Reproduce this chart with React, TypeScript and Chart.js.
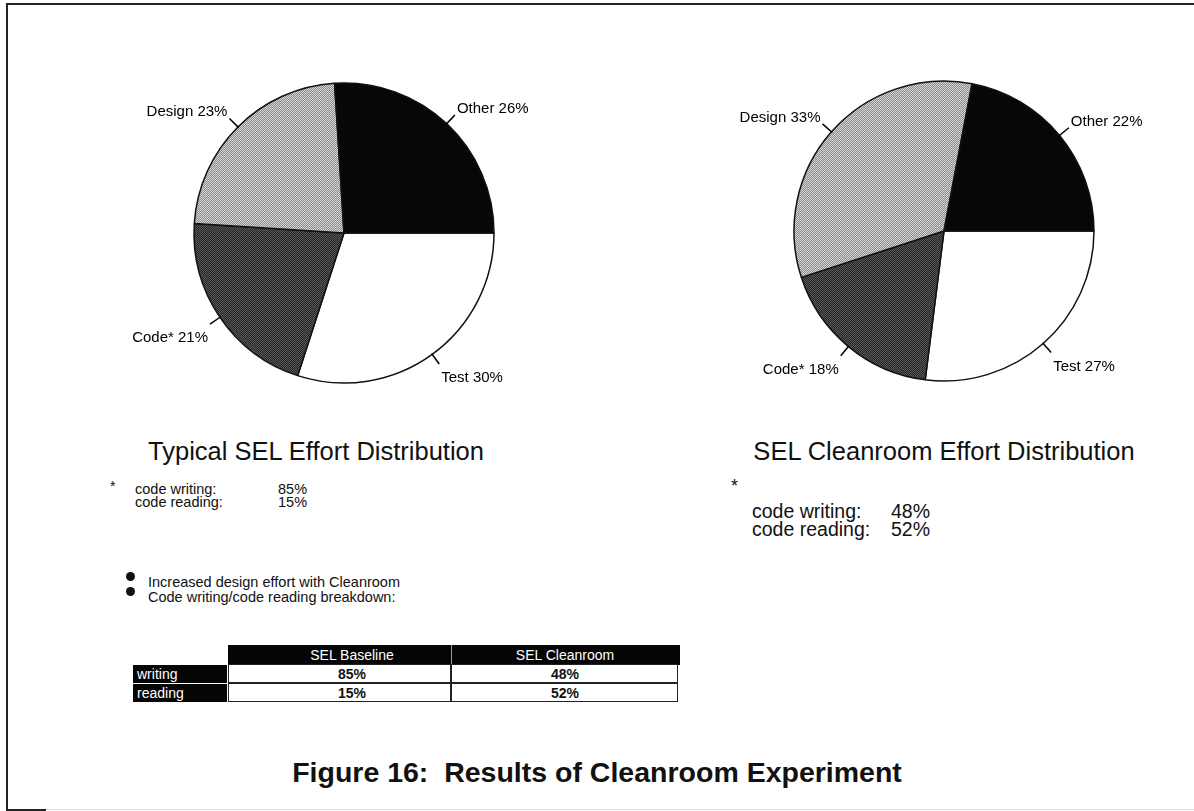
import React, { useEffect, useRef } from "react";
import { Chart, registerables } from "chart.js";

Chart.register(...registerables);

// ---- data ----
const categories = ["Test", "Code*", "Design", "Other"];
const typicalValues = [30, 21, 23, 26];
const cleanroomValues = [27, 18, 33, 22];
const pieTitles = ["Typical SEL Effort Distribution", "SEL Cleanroom Effort Distribution"];
const noteLabels = ["code writing:", "code reading:"];
const typicalNotes = [85, 15];
const cleanroomNotes = [48, 52];
const bulletItems = ["Increased design effort with Cleanroom", "Code writing/code reading breakdown:"];
const tableColumns = ["SEL Baseline", "SEL Cleanroom"];
const tableRows = ["writing", "reading"];
const baselineBreakdown = [85, 15];
const cleanroomBreakdown = [48, 52];
const captionText = "Figure 16:  Results of Cleanroom Experiment";

const FONT = "'Liberation Sans', Arial, Helvetica, sans-serif";

function makePattern(base: string, dot: string): CanvasPattern | string {
  const c = document.createElement("canvas");
  c.width = 2;
  c.height = 2;
  const g = c.getContext("2d");
  if (!g) return base;
  g.fillStyle = base;
  g.fillRect(0, 0, 2, 2);
  g.fillStyle = dot;
  g.fillRect(0, 0, 1, 1);
  g.fillRect(1, 1, 1, 1);
  return g.createPattern(c, "repeat") || base;
}

const pieLabelPlugin = {
  id: "pieLabels",
  afterDatasetsDraw(chart: any) {
    const ctx = chart.ctx;
    const meta = chart.getDatasetMeta(0);
    const labels = chart.data.labels;
    const values = chart.data.datasets[0].data;
    ctx.save();
    ctx.font = `15px ${FONT}`;
    ctx.fillStyle = "#000";
    ctx.strokeStyle = "#000";
    ctx.lineWidth = 1.5;
    meta.data.forEach((arc: any, i: number) => {
      const p = arc.getProps(["x", "y", "startAngle", "endAngle", "outerRadius"], true);
      const mid = (p.startAngle + p.endAngle) / 2;
      const cos = Math.cos(mid);
      const sin = Math.sin(mid);
      const r0 = p.outerRadius - 1;
      const r1 = p.outerRadius + 12;
      const x0 = p.x + cos * r0;
      const y0 = p.y + sin * r0;
      const x1 = p.x + cos * r1;
      const y1 = p.y + sin * r1;
      ctx.beginPath();
      ctx.moveTo(x0, y0);
      ctx.lineTo(x1, y1);
      ctx.stroke();
      const right = cos >= 0;
      ctx.textAlign = right ? "left" : "right";
      ctx.textBaseline = "alphabetic";
      const tx = x1 + (right ? 2 : -2);
      const ty = sin < 0 ? y1 - 2 : y1 + 18;
      ctx.fillText(`${labels[i]} ${values[i]}%`, tx, ty);
    });
    ctx.restore();
  },
};

function PieChart({ values, left, top }: { values: number[]; left: number; top: number }) {
  const ref = useRef<HTMLCanvasElement>(null);
  useEffect(() => {
    if (!ref.current) return;
    const design = makePattern("#d6d6d6", "#8a8a8a");
    const code = makePattern("#585858", "#262626");
    const chart = new Chart(ref.current, {
      type: "pie",
      data: {
        labels: categories,
        datasets: [
          {
            data: values,
            backgroundColor: ["#ffffff", code as any, design as any, "#070707"],
            borderColor: "#111",
            borderWidth: 1.5,
          },
        ],
      },
      options: {
        responsive: false,
        animation: false,
        rotation: 90,
        radius: 150,
        layout: { padding: 0 },
        plugins: { legend: { display: false }, tooltip: { enabled: false } },
        events: [],
      } as any,
      plugins: [pieLabelPlugin],
    });
    return () => chart.destroy();
  }, [values]);
  return (
    <canvas
      ref={ref}
      width={500}
      height={400}
      style={{ position: "absolute", left, top, width: 500, height: 400 }}
    />
  );
}

const abs = (left: number, top: number, extra: React.CSSProperties = {}): React.CSSProperties => ({
  position: "absolute",
  left,
  top,
  whiteSpace: "pre",
  fontFamily: FONT,
  color: "#111",
  ...extra,
});

export default function App() {
  useEffect(() => {
    document.body.style.margin = "0";
    document.body.style.overflow = "hidden";
  }, []);

  const colX = [228, 451];
  const colW = [223, 227];
  const rowY = [665, 684];
  const rowH = 19;

  return (
    <div
      style={{
        position: "absolute",
        left: 0,
        top: 0,
        width: 1194,
        height: 811,
        overflow: "hidden",
        background: "#fff",
        fontFamily: FONT,
      }}
    >
      {/* frame */}
      <div style={{ position: "absolute", left: 6, top: 3, width: 1200, height: 806, borderLeft: "2px solid #222", borderTop: "2px solid #222" }} />
      <div style={{ position: "absolute", left: 6, top: 809, width: 40, height: 2, background: "#222" }} />
      <div style={{ position: "absolute", left: 46, top: 809, width: 1148, height: 1, background: "#ddd" }} />

      <PieChart values={typicalValues} left={94} top={33} />
      <PieChart values={cleanroomValues} left={694} top={31} />

      {/* titles */}
      <div style={abs(316, 437, { transform: "translateX(-50%)", fontSize: 25.5 })}>{pieTitles[0]}</div>
      <div style={abs(944, 437, { transform: "translateX(-50%)", fontSize: 25.5 })}>{pieTitles[1]}</div>

      {/* left notes */}
      <div style={abs(110, 478, { fontSize: 14 })}>*</div>
      {noteLabels.map((t, i) => (
        <React.Fragment key={"ln" + i}>
          <div style={abs(135, 481 + i * 13, { fontSize: 14.5, lineHeight: "16px" })}>{t}</div>
          <div style={abs(278, 481 + i * 13, { fontSize: 14.5, lineHeight: "16px" })}>{typicalNotes[i]}%</div>
        </React.Fragment>
      ))}

      {/* right notes */}
      <div style={abs(731, 476, { fontSize: 18 })}>*</div>
      {noteLabels.map((t, i) => (
        <React.Fragment key={"rn" + i}>
          <div style={abs(752, 500 + i * 18, { fontSize: 19.5, lineHeight: "22px" })}>{t}</div>
          <div style={abs(891, 500 + i * 18, { fontSize: 19.5, lineHeight: "22px" })}>{cleanroomNotes[i]}%</div>
        </React.Fragment>
      ))}

      {/* bullets */}
      {bulletItems.map((t, i) => (
        <React.Fragment key={"b" + i}>
          <div style={{ position: "absolute", left: 126, top: 572 + i * 15, width: 9, height: 9, borderRadius: "50%", background: "#111" }} />
          <div style={abs(148, 574 + i * 15, { fontSize: 14.5, lineHeight: "16px" })}>{t}</div>
        </React.Fragment>
      ))}

      {/* table header */}
      <div style={{ position: "absolute", left: 228, top: 645, width: 452, height: 20, background: "#050505" }} />
      <div style={{ position: "absolute", left: 451, top: 645, width: 1, height: 20, background: "#999" }} />
      {tableColumns.map((c, j) => (
        <div key={"h" + j} style={abs(j === 0 ? 352 : 565, 645, { transform: "translateX(-50%)", fontSize: 14, lineHeight: "20px", color: "#fff" })}>
          {c}
        </div>
      ))}
      {/* table rows */}
      {tableRows.map((r, i) => (
        <React.Fragment key={"r" + i}>
          <div style={{ position: "absolute", left: 133, top: rowY[i], width: 94, height: rowH - 1, background: "#050505" }} />
          <div style={abs(137, rowY[i], { fontSize: 14, lineHeight: "18px", color: "#fff" })}>{r}</div>
          {[baselineBreakdown[i], cleanroomBreakdown[i]].map((v, j) => (
            <React.Fragment key={"c" + i + j}>
              <div
                style={{
                  position: "absolute",
                  left: colX[j],
                  top: rowY[i] - 1,
                  width: colW[j],
                  height: rowH,
                  border: "1px solid #222",
                  boxSizing: "border-box",
                  background: "#fff",
                }}
              />
              <div style={abs(j === 0 ? 352 : 565, rowY[i], { transform: "translateX(-50%)", fontSize: 14, fontWeight: 700, lineHeight: "18px" })}>
                {v}%
              </div>
            </React.Fragment>
          ))}
        </React.Fragment>
      ))}

      {/* caption */}
      <div style={abs(597, 756, { transform: "translateX(-50%)", fontSize: 28.5, fontWeight: 700 })}>{captionText}</div>
    </div>
  );
}
